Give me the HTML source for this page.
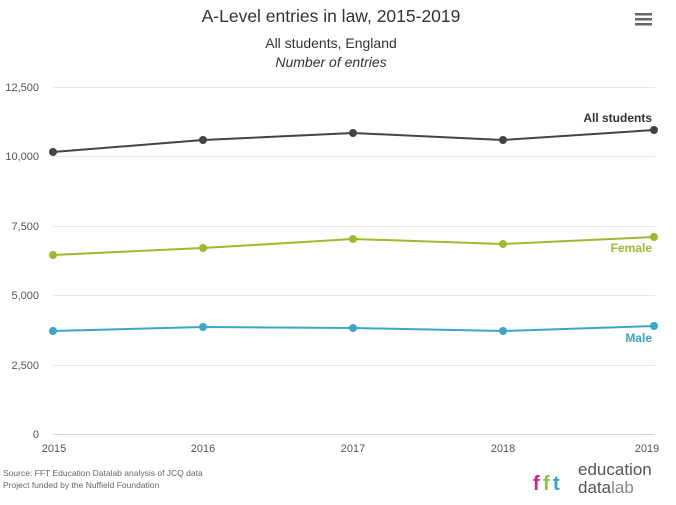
<!DOCTYPE html>
<html><head><style>
body{margin:0;background:#fff;}
svg{display:block;font-family:"Liberation Sans",sans-serif;}
</style></head><body>
<svg width="676" height="505" viewBox="0 0 676 505">
<rect width="676" height="505" fill="#fff"/>
<text x="331" y="22" text-anchor="middle" font-size="17.5" fill="#333">A-Level entries in law, 2015-2019</text>
<text x="331" y="48" text-anchor="middle" font-size="14" fill="#333">All students, England</text>
<text x="331" y="67" text-anchor="middle" font-size="14" font-style="italic" fill="#333">Number of entries</text>
<g fill="#666"><rect x="635" y="13" width="17" height="2.5"/><rect x="635" y="18" width="17" height="2.5"/><rect x="635" y="23" width="17" height="2.5"/></g>
<g stroke="#e6e6e6" stroke-width="1">
<line x1="53" x2="655" y1="87.5" y2="87.5"/><line x1="53" x2="655" y1="156.5" y2="156.5"/><line x1="53" x2="655" y1="226.5" y2="226.5"/><line x1="53" x2="655" y1="295.5" y2="295.5"/><line x1="53" x2="655" y1="365.5" y2="365.5"/>
</g>
<line x1="53" x2="655" y1="434.5" y2="434.5" stroke="#ccd6eb"/>
<g font-size="11" fill="#555" text-anchor="end">
<text x="39" y="91">12,500</text><text x="39" y="160">10,000</text><text x="39" y="230">7,500</text><text x="39" y="299">5,000</text><text x="39" y="369">2,500</text><text x="39" y="438">0</text>
</g>
<g font-size="11" fill="#555" text-anchor="middle">
<text x="54" y="452">2015</text><text x="203" y="452">2016</text><text x="353" y="452">2017</text><text x="503" y="452">2018</text><text x="647" y="452">2019</text>
</g>
<g stroke-width="2" fill="none">
<polyline stroke="#434348" points="53,152 203,140 353,133 503,140 654,130"/>
<polyline stroke="#9bbb2c" points="53,255 203,248 353,239 503,244 654,237"/>
<polyline stroke="#3ca6c9" points="53,331 203,327 353,328 503,331 654,326"/>
</g>
<g fill="#434348"><circle cx="53" cy="152" r="4"/><circle cx="203" cy="140" r="4"/><circle cx="353" cy="133" r="4"/><circle cx="503" cy="140" r="4"/><circle cx="654" cy="130" r="4"/></g>
<g fill="#9bbb2c"><circle cx="53" cy="255" r="4"/><circle cx="203" cy="248" r="4"/><circle cx="353" cy="239" r="4"/><circle cx="503" cy="244" r="4"/><circle cx="654" cy="237" r="4"/></g>
<g fill="#3ca6c9"><circle cx="53" cy="331" r="4"/><circle cx="203" cy="327" r="4"/><circle cx="353" cy="328" r="4"/><circle cx="503" cy="331" r="4"/><circle cx="654" cy="326" r="4"/></g>
<g font-size="12" font-weight="bold" text-anchor="end">
<text x="652" y="122" fill="#333">All students</text>
<text x="652" y="252" fill="#9bbb2c">Female</text>
<text x="652" y="342" fill="#3ca6c9">Male</text>
</g>
<text x="3" y="476" font-size="8.5" fill="#666">Source: FFT Education Datalab analysis of JCQ data</text>
<text x="3" y="488" font-size="8.5" fill="#666">Project funded by the Nuffield Foundation</text>
<g font-size="20" font-weight="bold">
<text x="533" y="490" fill="#d6237e">f</text><text x="543" y="490" fill="#8bc53f">f</text><text x="553" y="490" fill="#2aa7c9">t</text>
</g>
<text x="578" y="475" font-size="17" fill="#555">education</text>
<text x="578" y="493" font-size="17" fill="#555">data<tspan fill="#888">lab</tspan></text>
</svg>
</body></html>
